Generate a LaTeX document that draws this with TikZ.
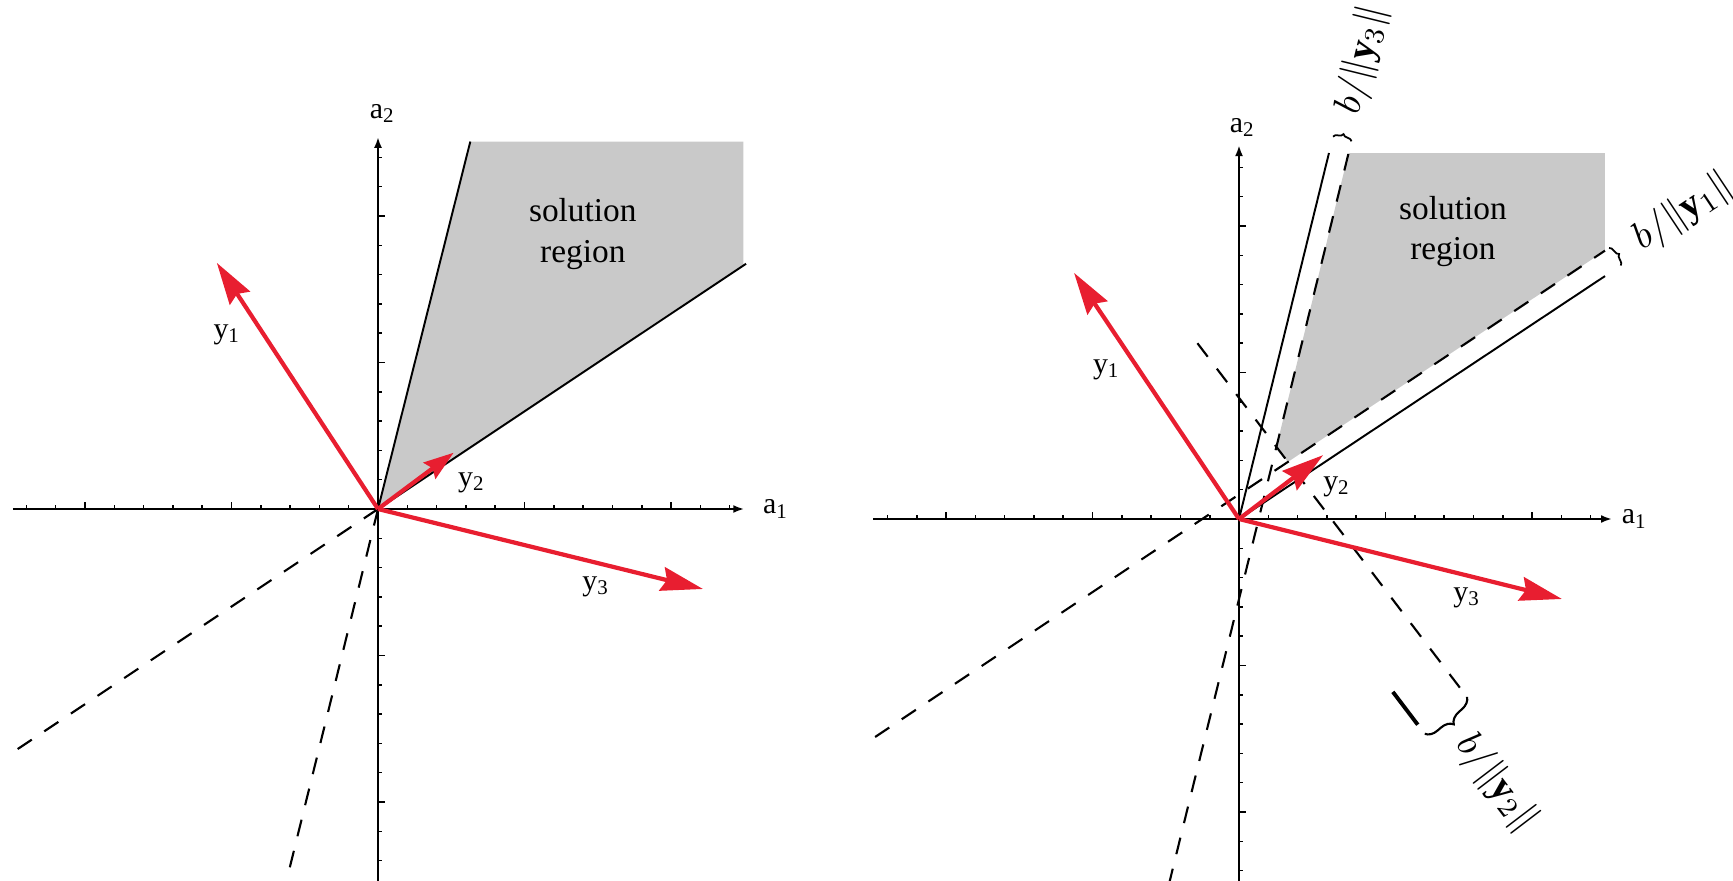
\documentclass[tikz,border=0pt]{standalone}
\usepackage{fontspec}
\setmainfont{Liberation Serif}
\usepackage{xcolor}
\usepackage{tikz}
\usetikzlibrary{arrows.meta}
\usetikzlibrary{calc, decorations.pathreplacing}
\definecolor{vecred}{RGB}{232,30,48}
\definecolor{regiongray}{RGB}{201,201,201}
\tikzstyle{axisln}=[line width=0.8pt, -{Latex[length=1.1mm, width=0.8mm]}]
\tikzstyle{tickmk}=[line width=0.45pt]
\tikzstyle{vec}=[vecred, line width=1.2pt, -{Stealth[length=4.2mm, width=2.4mm, inset=0.5mm]}]
\tikzstyle{vecshort}=[vecred, line width=1.2pt, -{Stealth[length=3mm, width=2mm, inset=0.4mm]}]
\tikzstyle{boundln}=[line width=0.55pt]
\tikzstyle{marginln}=[line width=0.6pt, dash pattern=on 1.7mm off 1.5mm]
\tikzstyle{mbrace}=[decorate, decoration={brace, amplitude=0.5mm}, line width=0.5pt]
\tikzstyle{mbracebig}=[decorate, decoration={brace, amplitude=1.2mm}, line width=0.6pt]
\tikzstyle{mlbl}=[inner sep=1pt, anchor=west, font=\fontsize{11}{13}\selectfont]
\tikzstyle{region}=[align=center, inner sep=0pt, font=\fontsize{9.5}{11.6}\selectfont]

\begin{document}
\begin{tikzpicture}

\tikzset{every node/.style={font=\fontsize{8.5}{10}\selectfont}}
\useasboundingbox (0,0) rectangle (17.33,8.80);

% Left panel
\begin{scope}[shift={(3.78,3.71)}, x=0.293cm, y=0.293cm]
\coordinate (oL) at (0,0);
\coordinate (xminL) at (-12.46,0);
\coordinate (xmaxL) at (12.5,0);
\coordinate (yminL) at (0,-12.8);
\coordinate (ymaxL) at (0,12.7);
\coordinate (l1L) at (12.56,8.37); % a.y1 = 0
\coordinate (l3L) at (3.15,12.54); % a.y3 = 0
\coordinate (d1L) at (-12.46,-8.30);
\coordinate (d3L) at (-3.15,-12.8);
\coordinate (y1L) at (-5.5,8.4);
\coordinate (y2L) at (2.58,1.92);
\coordinate (y3L) at (11.09,-2.73);

\fill[regiongray] (oL) -- (l3L) -- (12.47,12.54) -- (12.47,8.31) -- cycle;

\foreach \i in {1,...,12} {
  \draw[tickmk] (\i,0) -- ++(0,0.04cm);
  \draw[tickmk] (-\i,0) -- ++(0,0.04cm);
  \draw[tickmk] (0,\i) -- ++(0.04cm,0);
  \draw[tickmk] (0,-\i) -- ++(0.04cm,0);
}
\foreach \i in {-10,-5,5,10} {
  \draw[tickmk] (\i,0) -- ++(0,0.07cm);
  \draw[tickmk] (0,\i) -- ++(0.07cm,0);
}
\draw[axisln] (xminL) -- (xmaxL);
\draw[axisln] (yminL) -- (ymaxL);
\node (a1L) at (13.58,0) {a\textsubscript{1}};
\node (a2L) at (0.16,13.5) {a\textsubscript{2}};

\draw[boundln] (oL) -- (l1L);
\draw[boundln] (oL) -- (l3L);
\draw[marginln] (oL) -- (d1L);
\draw[marginln] (oL) -- (d3L);

\draw[vec] (oL) -- (y1L);
\draw[vecshort] (oL) -- (y2L);
\draw[vec] (oL) -- (y3L);
\node (y1lblL) at (-5.15,5.95) {y\textsubscript{1}};
\node (y2lblL) at (3.2,0.89) {y\textsubscript{2}};
\node (y3lblL) at (7.44,-2.66) {y\textsubscript{3}};
\node[region] (solL) at (6.99,9.39) {solution\\region};
\end{scope}

% Right panel, with margin b
\begin{scope}[shift={(12.39,3.61)}, x=0.293cm, y=0.293cm]
\coordinate (oR) at (0,0);
\coordinate (xminR) at (-12.49,0);
\coordinate (xmaxR) at (12.73,0);
\coordinate (yminR) at (0,-12.5);
\coordinate (ymaxR) at (0,12.76);
\coordinate (l1R) at (12.49,8.29); % a.y1 = 0
\coordinate (l3R) at (3.07,12.49); % a.y3 = 0
\coordinate (m1aR) at (-12.42,-7.44); % a.y1 = b
\coordinate (m1bR) at (12.49,9.16);
\coordinate (m3aR) at (-2.40,-12.5); % a.y3 = b
\coordinate (m3bR) at (3.74,12.49);
\coordinate (m2aR) at (-1.42,6.00); % a.y2 = b
\coordinate (m2bR) at (7.54,-5.76);
\coordinate (s2aR) at (5.25,-5.90);
\coordinate (s2bR) at (6.10,-7.02);
\coordinate (c12R) at (intersection of m1aR--m1bR and m2aR--m2bR);
\coordinate (c32R) at (intersection of m3aR--m3bR and m2aR--m2bR);
\coordinate (y1R) at (-5.63,8.40);
\coordinate (y2R) at (2.87,2.18);
\coordinate (y3R) at (11.02,-2.73);

\fill[regiongray] (c12R) -- (c32R) -- (m3bR) -- (m1bR |- m3bR) -- (m1bR) -- cycle;

\foreach \i in {1,...,12} {
  \draw[tickmk] (\i,0) -- ++(0,0.04cm);
  \draw[tickmk] (-\i,0) -- ++(0,0.04cm);
  \draw[tickmk] (0,\i) -- ++(0.04cm,0);
  \draw[tickmk] (0,-\i) -- ++(0.04cm,0);
}
\foreach \i in {-10,-5,5,10} {
  \draw[tickmk] (\i,0) -- ++(0,0.07cm);
  \draw[tickmk] (0,\i) -- ++(0.07cm,0);
}
\draw[axisln] (xminR) -- (xmaxR);
\draw[axisln] (yminR) -- (ymaxR);
\node (a1R) at (13.5,0) {a\textsubscript{1}};
\node (a2R) at (0.12,13.35) {a\textsubscript{2}};

\draw[boundln] (oR) -- (l1R);
\draw[boundln] (oR) -- (l3R);
\draw[marginln] (m1aR) -- (m1bR);
\draw[marginln] (m3aR) -- (m3bR);
\draw[marginln] (m2aR) -- (m2bR);
\draw[line width=1.1pt] (s2aR) -- (s2bR);

% braces and margins
\coordinate (b1aR) at (13.03,8.65);
\coordinate (b1bR) at (12.63,9.25);
\coordinate (b3aR) at (3.21,13.05);
\coordinate (b3bR) at (3.84,12.89);
\coordinate (b2aR) at (7.78,-6.07);
\coordinate (b2bR) at (6.34,-7.33);
\draw[mbrace] (b1bR) -- (b1aR);
\draw[mbrace] (b3aR) -- (b3bR);
\draw[mbracebig] (b2aR) -- (b2bR);
\node[mlbl, rotate=33.6] (b1lbl) at (13.46,9.37) {$b/\big\|\mathbf{y}_1\big\|$};
\node[mlbl, rotate=76.2] (b3lbl) at (3.70,13.70) {$b/\big\|\mathbf{y}_3\big\|$};
\node[mlbl, rotate=-52.7] (b2lbl) at (7.58,-7.38) {$b/\big\|\mathbf{y}_2\big\|$};

\draw[vec] (oR) -- (y1R);
\draw[vec] (oR) -- (y2R);
\draw[vec] (oR) -- (y3R);
\node (y1lblR) at (-4.52,5.09) {y\textsubscript{1}};
\node (y2lblR) at (3.34,1.09) {y\textsubscript{2}};
\node (y3lblR) at (7.78,-2.70) {y\textsubscript{3}};
\node[region] (solR) at (7.30,9.81) {solution\\region};
\end{scope}

\end{tikzpicture}
\end{document}
